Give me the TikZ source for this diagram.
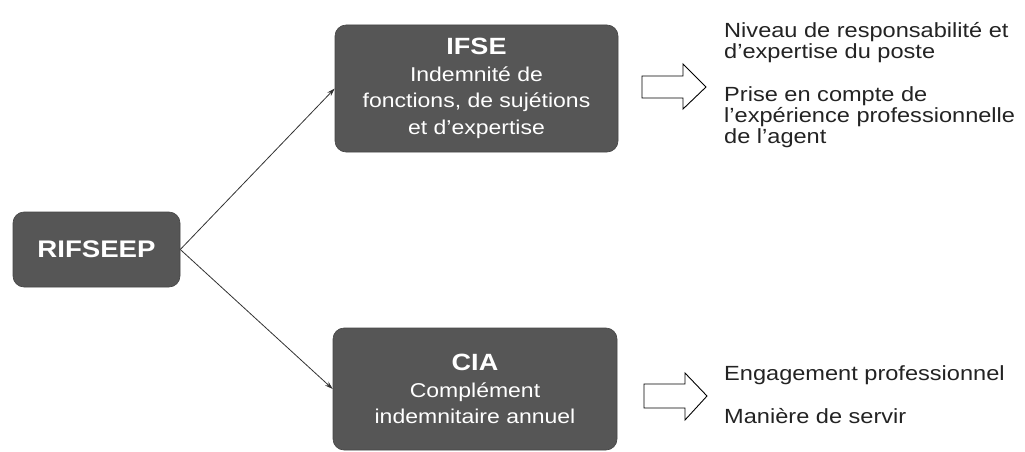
\documentclass[tikz,border=0pt]{standalone}
\usepackage{fontspec}
\setmainfont{Liberation Sans}[FakeStretch=1.15]
\usetikzlibrary{arrows.meta}
\definecolor{boxgray}{RGB}{86,86,86}
\definecolor{txtdark}{RGB}{35,35,35}
\definecolor{linedark}{RGB}{50,50,50}
\tikzset{
  greybox/.style={draw=boxgray!80!black, line width=0.6pt, fill=boxgray, rounded corners=11pt,
    text=white, align=center, inner sep=0pt,
    font=\fontsize{20}{26.5}\selectfont},
  conn/.style={draw=linedark, line width=0.8pt, -{Stealth[length=8pt,width=5pt]}},
  blockarrow/.style={draw=black, line width=0.9pt, fill=white, line join=miter},
  rtext/.style={anchor=base west, inner sep=0pt, text=txtdark, font=\fontsize{20.5}{24}\selectfont},
  ttl/.style={font=\bfseries\fontsize{23.5}{26.5}\selectfont}
}
\begin{document}
\begin{tikzpicture}[x=1pt,y=-1pt]
\useasboundingbox (0,0) rectangle (1025,452);
% main boxes
\node[greybox, minimum width=167pt, minimum height=75pt] (rif) at (96.5,249.5)
  {{\bfseries\fontsize{24}{26}\selectfont RIFSEEP}};
\node[greybox, minimum width=283pt, minimum height=127pt] (ifse) at (476.5,88.5)
  {{\bfseries\fontsize{23.5}{26.5}\selectfont IFSE}\\Indemnité de\\fonctions, de sujétions\\et d’expertise};
\node[greybox, minimum width=284pt, minimum height=122pt] (cia) at (475,389)
  {{\bfseries\fontsize{23.5}{26.5}\selectfont CIA}\\Complément\\indemnitaire annuel};
% connectors
\draw[conn] (rif.east) -- (ifse.west);
\draw[conn] (rif.east) -- (cia.west);
% block arrows
\draw[blockarrow] (642,76) -- (683,76) -- (683,64) -- (706,87) -- (683,109) -- (683,98) -- (642,98) -- cycle;
\draw[blockarrow] (644,384) -- (685,384) -- (685,373) -- (707,396) -- (685,420) -- (685,408) -- (644,408) -- cycle;
% right texts
\node[rtext] (t1) at (724,38) {Niveau de responsabilité et};
\node[rtext] (t2) at (724,59) {d’expertise du poste};
\node[rtext] (t3) at (724,101) {Prise en compte de};
\node[rtext] (t4) at (724,122) {l’expérience professionnelle};
\node[rtext] (t5) at (724,143) {de l’agent};
\node[rtext] (t6) at (724,380) {Engagement professionnel};
\node[rtext] (t7) at (724,423) {Manière de servir};
\end{tikzpicture}
\end{document}
